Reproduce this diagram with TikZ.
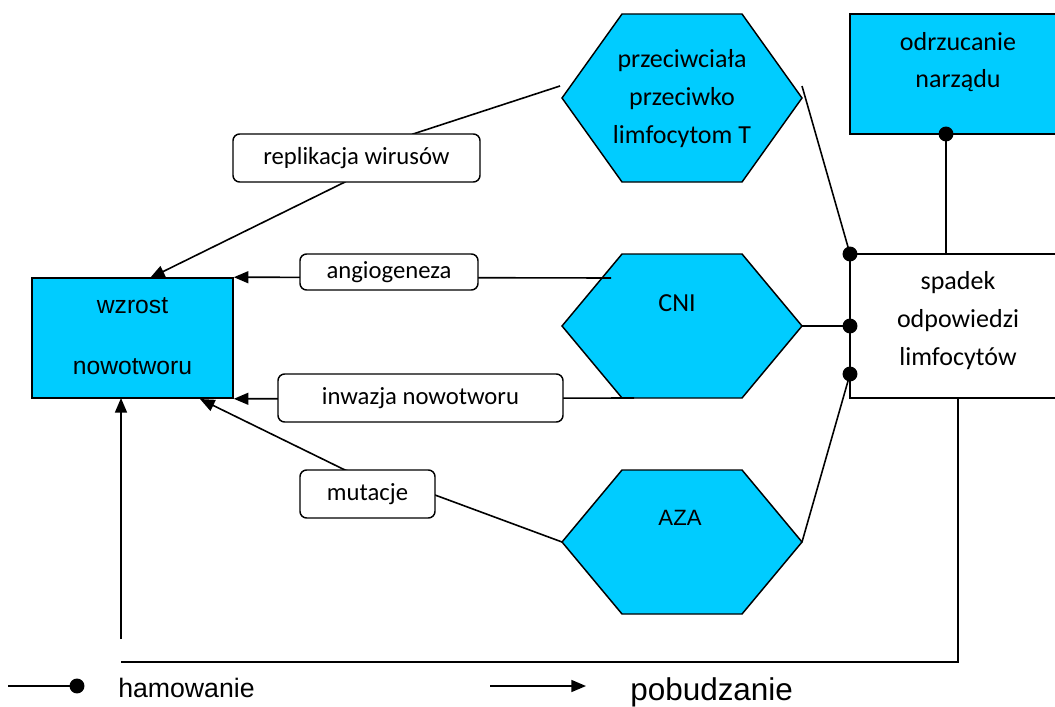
\documentclass[tikz,border=0pt]{standalone}
\usepackage{fontspec}
\setmainfont{Carlito}
\newfontfamily\arialf{Liberation Sans}
\usetikzlibrary{arrows.meta}
\definecolor{cyanfill}{HTML}{00CCFF}
\tikzset{
  conn/.style={line width=1.2pt},
  thinconn/.style={line width=0.8pt},
  arr/.style={conn,-{Triangle[length=11pt,width=9pt]}},
  lab/.style={draw,line width=1.1pt,fill=white,rounded corners=5pt,inner sep=0pt,font=\fontsize{18.5}{22}\selectfont},
  cbox/.style={draw,line width=1.2pt,fill=cyanfill,inner sep=0pt},
  wbox/.style={draw,line width=1.2pt,fill=white,inner sep=0pt},
  hexf/.style={draw,line width=1.1pt,fill=cyanfill},
  ctext/.style={align=center,inner sep=0pt,font=\fontsize{19.5}{28.5}\selectfont},
  atext/.style={align=center,inner sep=0pt,font=\arialf\fontsize{18.5}{45.75}\selectfont},
  dotmark/.style={fill=black},
}
\newcommand\myhex[4]{%
  \draw[hexf] (#2-120,#3) -- (#2-60,#3-#4) -- (#2+60,#3-#4) -- (#2+120,#3) -- (#2+60,#3+#4) -- (#2-60,#3+#4) -- cycle;
  \coordinate (#1-L) at (#2-120,#3);
  \coordinate (#1-R) at (#2+120,#3);
}
\begin{document}
\begin{tikzpicture}[x=0.75pt,y=-0.75pt]
\useasboundingbox (0,0) rectangle (1055,706);

% boxes
\node[cbox,minimum width={201*0.75pt},minimum height={120*0.75pt}] (wz) at (132.5,338) {};
\node[atext] (wzt) at (132.5,336) {wzrost\\nowotworu};
\node[cbox,minimum width={212*0.75pt},minimum height={120*0.75pt}] (odr) at (956,74) {};
\node[ctext,font=\fontsize{19.5}{27.75}\selectfont] (odrt) at (958,62) {odrzucanie\\narządu};
\node[wbox,minimum width={212*0.75pt},minimum height={144*0.75pt}] (sp) at (956,326) {};
\node[ctext] (spt) at (958,321) {spadek\\odpowiedzi\\limfocytów};

% hexagons
\myhex{pc}{682}{98}{84}
\myhex{cni}{682}{326}{72}
\myhex{aza}{682}{542}{72}
\node[ctext] (pct) at (682,99) {przeciwciała\\przeciwko\\limfocytom T};
\node[ctext] (cnit) at (677,303) {CNI};
\node[inner sep=0pt,font=\arialf\fontsize{16.6}{20}\selectfont] (azat) at (680,518) {AZA};

% named coordinates
\coordinate (pcOut) at (560,86);
\coordinate (replTop) at (413,134);
\coordinate (replBot) at (345,182);
\coordinate (wzTop) at (150,278);
\coordinate (angR) at (611,278);
\coordinate (invR) at (634,398);
\coordinate (mutTip) at (200,399);
\coordinate (mutTop) at (345,470);
\coordinate (mutR) at (435,495);
\coordinate (pcR2) at (802,86);
\coordinate (spD1) at (850,254);
\coordinate (spD2) at (850,326);
\coordinate (spD3) at (850,374);
\coordinate (odrD) at (946,134);
\coordinate (odrB) at (946,254);
\coordinate (spB) at (958,398);
\coordinate (corner) at (958,662);
\coordinate (h1) at (827,662);
\coordinate (h2) at (610,662);
\coordinate (h3) at (347,662);
\coordinate (h4) at (121,662);
\coordinate (vStart) at (121,639);
\coordinate (vEnd) at (121,398);

% connectors (behind labels)
\draw[arr] (pcOut) -- (replTop) -- (replBot) -- (wzTop);
\draw[arr] (angR) -- (wz.north east);
\draw[arr] (invR) -- (wz.south east);
\draw[arr] (aza-L) -- (mutR) -- (mutTop) -- (mutTip);

% labels
\node[lab,minimum width={247*0.75pt},minimum height={48*0.75pt}] (repl) at (356.5,158) {replikacja wirusów};
\node[lab,minimum width={178*0.75pt},minimum height={36*0.75pt}] (ang) at (389,272) {angiogeneza};
\node[lab,minimum width={285*0.75pt},minimum height={48*0.75pt}] (inv) at (420.5,398) {inwazja nowotworu};
\node[lab,minimum width={135*0.75pt},minimum height={48*0.75pt}] (mut) at (367.5,494) {mutacje};

% inhibition lines
\draw[conn] (pcR2) -- (spD1);
\draw[conn] (cni-R) -- (spD2);
\draw[conn] (aza-R) -- (spD3);
\draw[conn] (odrD) -- (odrB);
\fill[dotmark] (spD1) circle (5.6pt);
\fill[dotmark] (spD2) circle (5.6pt);
\fill[dotmark] (spD3) circle (5.6pt);
\fill[dotmark] (odrD) circle (5.6pt);

% feedback loop
\draw[line width=1.5pt] (spB) -- (corner) -- (h1);
\draw[thinconn] (h1) -- (h2);
\draw[line width=1.5pt] (h2) -- (h3);
\draw[thinconn] (h3) -- (h4);
\draw[arr] (vStart) -- (vEnd);

% legend
\coordinate (lg1) at (8,686);
\coordinate (lg2) at (77,686);
\coordinate (lg3) at (490,686);
\coordinate (lg4) at (586,686);
\draw[conn] (lg1) -- (lg2);
\fill[dotmark] (lg2) circle (5.6pt);
\node[anchor=base west,inner sep=0pt,font=\arialf\fontsize{20}{24}\selectfont] (ham) at (118,697) {hamowanie};
\draw[arr] (lg3) -- (lg4);
\node[anchor=base west,inner sep=0pt,font=\arialf\fontsize{23.6}{28}\selectfont] (pob) at (630,700) {pobudzanie};
\end{tikzpicture}
\end{document}
